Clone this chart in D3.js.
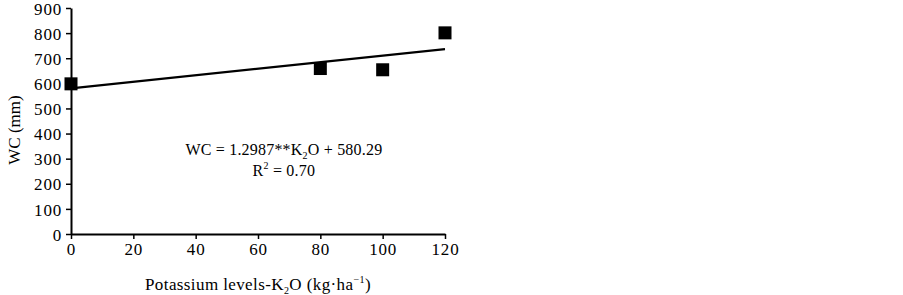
<!DOCTYPE html>
<head>
    <meta charset="utf-8">
    <title>WC vs potassium levels</title>
    <style>
        body { margin: 0; background: #fff; }
        svg text { font-family: "Liberation Serif", "Times New Roman", serif; fill: #000; }
    </style>
</head>
<body>

<svg width="903" height="295"></svg>

<script src="https://d3js.org/d3.v7.min.js"></script>

<script>

    // Data
    const k2oLevels = [0, 80, 100, 120];
    const wcValues = [598, 659, 654, 801];
    const xTicks = [0, 20, 40, 60, 80, 100, 120];
    const yTicks = [0, 100, 200, 300, 400, 500, 600, 700, 800, 900];
    const slope = 1.2987;
    const intercept = 580.29;

    const svg = d3.select("svg");
    const margin = { left: 71, top: 8, right: 458, bottom: 61 };
    const width = +svg.attr("width") - margin.left - margin.right;
    const height = +svg.attr("height") - margin.top - margin.bottom;

    const g = svg.append("g")
        .attr("transform", "translate(" + margin.left + "," + margin.top + ")");

    const x = d3.scaleLinear().domain([0, 120]).range([0, width]);
    const y = d3.scaleLinear().domain([0, 900]).range([height, 0]);

    // Axes
    const xAxis = g.append("g")
        .attr("transform", "translate(0," + height + ")")
        .call(d3.axisBottom(x).tickValues(xTicks).tickSize(5).tickPadding(4).tickSizeOuter(0));

    const yAxis = g.append("g")
        .call(d3.axisLeft(y).tickValues(yTicks).tickSize(5).tickPadding(4).tickSizeOuter(0));

    [xAxis, yAxis].forEach(function(a) {
        a.select(".domain").attr("stroke", "#000").attr("stroke-width", 2);
        a.selectAll(".tick line").attr("stroke", "#000").attr("stroke-width", 1.5);
        a.selectAll(".tick text")
            .attr("font-size", 17)
            .attr("letter-spacing", 0.8)
            .attr("font-family", null);
    });
    // keep the top label inside the picture
    yAxis.selectAll(".tick text").attr("dy", "0.36em");

    // Regression line
    g.append("line")
        .attr("x1", x(0))
        .attr("y1", y(intercept))
        .attr("x2", x(120))
        .attr("y2", y(intercept + slope * 120))
        .attr("stroke", "#000")
        .attr("stroke-width", 2.2);

    // Points
    const pts = k2oLevels.map(function(d, i) { return { k: d, wc: wcValues[i] }; });
    const size = 13;
    g.selectAll("rect.pt")
        .data(pts)
        .enter().append("rect")
            .attr("class", "pt")
            .attr("x", function(d) { return x(d.k) - size / 2; })
            .attr("y", function(d) { return y(d.wc) - size / 2; })
            .attr("width", size)
            .attr("height", size)
            .attr("fill", "#000");

    // Equation
    const eq = g.append("text")
        .attr("x", x(68.3))
        .attr("y", y(314))
        .attr("text-anchor", "middle")
        .attr("font-size", 16)
        .attr("letter-spacing", 0.2);
    eq.append("tspan").text("WC = 1.2987**K");
    eq.append("tspan").attr("font-size", 10).attr("dy", 4).text("2");
    eq.append("tspan").attr("dy", -4).text("O + 580.29");

    const r2 = g.append("text")
        .attr("x", x(68.3))
        .attr("y", y(231))
        .attr("text-anchor", "middle")
        .attr("font-size", 16)
        .attr("letter-spacing", 0.2);
    r2.append("tspan").text("R");
    r2.append("tspan").attr("font-size", 10).attr("dy", -7).text("2");
    r2.append("tspan").attr("dy", 7).text(" = 0.70");

    // Axis titles
    const xt = svg.append("text")
        .attr("x", margin.left + width / 2)
        .attr("y", 290)
        .attr("text-anchor", "middle")
        .attr("font-size", 17)
        .attr("letter-spacing", 0.4);
    xt.append("tspan").text("Potassium levels-K");
    xt.append("tspan").attr("font-size", 10).attr("dy", 4).text("2");
    xt.append("tspan").attr("dy", -4).text("O (kg\u00b7ha");
    xt.append("tspan").attr("font-size", 10).attr("dy", -7).text("\u22121");
    xt.append("tspan").attr("dy", 7).text(")");

    svg.append("text")
        .attr("transform", "translate(20," + (margin.top + height / 2 + 9) + ") rotate(-90)")
        .attr("text-anchor", "middle")
        .attr("font-size", 17)
        .text("WC (mm)");

</script>

</body>
